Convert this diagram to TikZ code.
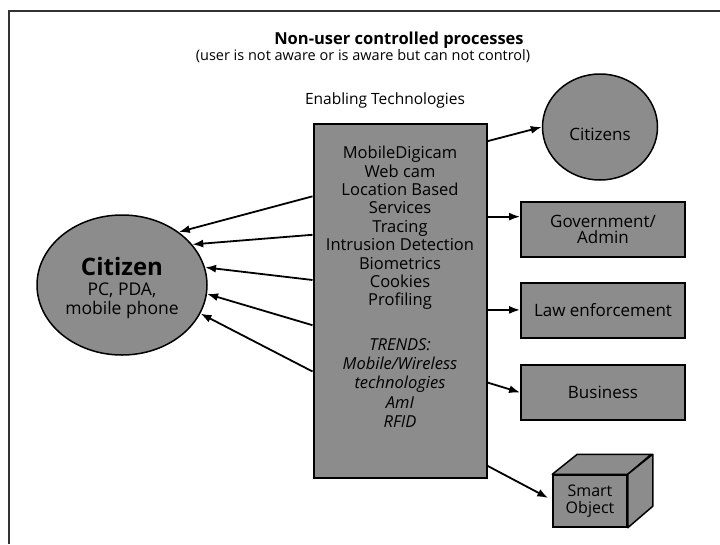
\documentclass[tikz,border=0pt]{standalone}
\usepackage{fontspec}
\setmainfont{Open Sans}
\usetikzlibrary{arrows.meta,shapes.geometric,calc}
\begin{document}
\begin{tikzpicture}[x=1pt,y=-1pt,
  shade/.style={fill=black!45, draw=black},
  arr/.style={line width=1.8pt, -{Latex[length=11pt,width=8pt]}},
  lbl/.style={font=\fontsize{16.5}{18.4}\selectfont, align=center, inner sep=0pt},
  box/.style={shade, line width=1.8pt, minimum width=164, minimum height=55, inner sep=0pt, rectangle}
]
\useasboundingbox (0,0) rectangle (720,544);
\draw[line width=2pt, black!80] (720,11) -- (9,11) -- (9,544);
% titles
\node[font=\bfseries\fontsize{16.5}{18}\selectfont, inner sep=0pt] (title) at (399,40) {Non-user controlled processes};
\node[font=\fontsize{14.5}{16}\selectfont, inner sep=0pt] (sub) at (363,56) {(user is not aware or is aware but can not control)};
\node[font=\fontsize{15.5}{17}\selectfont, inner sep=0pt] (enab) at (385,100) {Enabling Technologies};
% central box
\node[shade, line width=2pt, minimum width=173, minimum height=354, inner sep=0pt] (tech) at (400,301) {};
\node[lbl] (techA) at (400,228) {MobileDigicam\\Web cam\\Location Based\\Services\\Tracing\\Intrusion Detection\\Biometrics\\Cookies\\Profiling};
\node[lbl, font=\itshape\fontsize{16.5}{19.2}\selectfont] (techB) at (400,383) {TRENDS:\\Mobile/Wireless\\technologies\\AmI\\RFID};
% citizen
\node[ellipse, shade, line width=1.5pt, minimum width=170, minimum height=140, inner sep=0pt] (cit) at (122,285) {};
\node[lbl, font=\fontsize{17.5}{19.5}\selectfont] (cittxt) at (122,288) {{\bfseries\fontsize{24}{24}\selectfont Citizen}\\PC, PDA,\\mobile phone};
% right side
\node[ellipse, shade, line width=1.5pt, minimum width=115, minimum height=106, inner sep=0pt] (citizens) at (600,127) {};
\node[lbl, font=\fontsize{17}{18}\selectfont] (citizenstxt) at (600,134) {Citizens};
\node[box, align=center, font=\fontsize{17}{16}\selectfont] (gov) at (603,229.5) {Government/\\Admin};
\node[box, font=\fontsize{17}{18}\selectfont] (law) at (603,310.5) {Law enforcement};
\node[box, font=\fontsize{17}{18}\selectfont] (biz) at (603,392.5) {Business};
% smart object cube
\node[shade, line width=1.5pt, minimum width=74, minimum height=52, inner sep=0pt, align=center, font=\fontsize{16}{17.5}\selectfont] (obj) at (590,501) {Smart\\Object};
\draw[shade, line width=1.5pt, line join=round] (obj.north west) -- ++(25,-20) -- ++(74,0) -- (obj.north east) -- cycle;
\draw[shade, line width=1.5pt, line join=round] (obj.north east) -- ++(25,-20) -- ++(0,52) -- (obj.south east) -- cycle;
% left arrows
\draw[arr] ($(tech.north west)!0.206!(tech.south west)$) -- (cit.43);
\draw[arr] ($(tech.north west)!0.314!(tech.south west)$) -- (cit.30);
\draw[arr] ($(tech.north west)!0.441!(tech.south west)$) -- (cit.12);
\draw[arr] ($(tech.north west)!0.568!(tech.south west)$) -- (cit.-6);
\draw[arr] ($(tech.north west)!0.698!(tech.south west)$) -- (cit.-20);
% right arrows
\coordinate (r1) at ($(tech.north east)!0.051!(tech.south east)$);
\coordinate (r2) at ($(tech.north east)!0.263!(tech.south east)$);
\coordinate (r3) at ($(tech.north east)!0.525!(tech.south east)$);
\coordinate (r4) at ($(tech.north east)!0.729!(tech.south east)$);
\coordinate (r5) at ($(tech.north east)!0.963!(tech.south east)$);
\draw[arr] (r1) -- (citizens.west);
\draw[arr] (r2) -- (r2 -| gov.west);
\draw[arr] (r3) -- (r3 -| law.west);
\draw[arr] (r4) -- (biz.west);
\draw[arr] (r5) -- ($(obj.west)+(-4,-3)$);
\end{tikzpicture}
\end{document}
